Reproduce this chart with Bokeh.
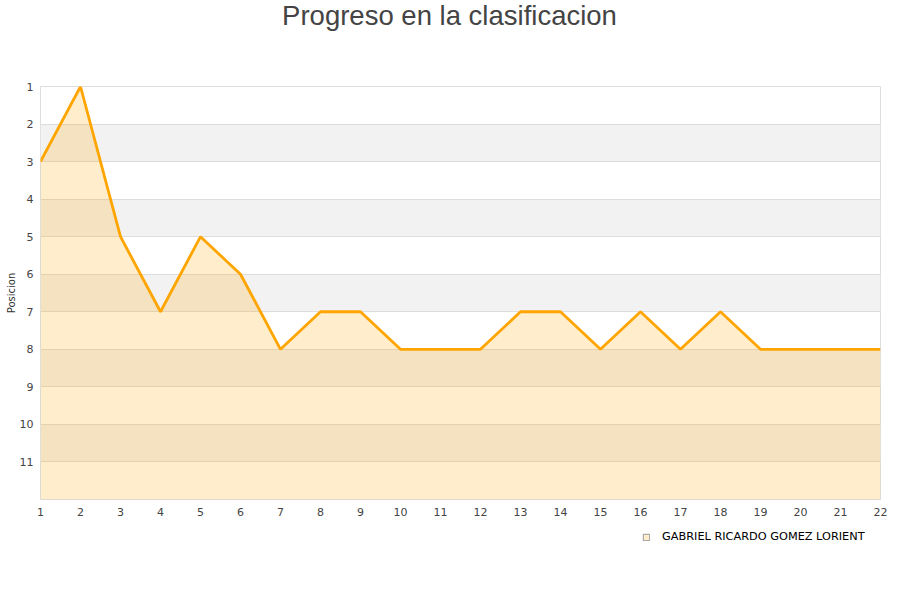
from bokeh.plotting import figure
from bokeh.models import ColumnDataSource, FixedTicker, Range1d, Legend, LegendItem, Label
from bokeh.layouts import column
from bokeh.embed import file_html
from bokeh.resources import INLINE

jornadas = list(range(1, 23))
posicion = [3, 1, 5, 7, 5, 6, 8, 7, 7, 8, 8, 8, 7, 7, 8, 7, 8, 7, 8, 8, 8, 8]
player = "GABRIEL RICARDO GOMEZ LORIENT"
title = "Progreso en la clasificacion"
y_ticks = list(range(1, 13))
bottom = 12

src = ColumnDataSource(dict(x=jornadas, y=posicion, base=[bottom] * len(jornadas)))

# title strip
p0 = figure(width=900, height=46, output_backend="svg", toolbar_location=None,
            x_range=Range1d(100, 101), y_range=Range1d(100, 101), min_border=0)
p0.axis.visible = False
p0.grid.visible = False
p0.outline_line_color = None
p0.add_layout(Label(x=409, y=31, x_units="screen", y_units="screen", text=title,
                    text_align="center", text_baseline="alphabetic",
                    text_font="Liberation Sans", text_font_size="27.5px",
                    text_color="#444444"))

p = figure(width=900, height=479, output_backend="svg", toolbar_location=None,
           x_range=Range1d(1, 22), y_range=Range1d(bottom, 1),
           min_border_left=40, min_border_right=20, min_border_top=40, min_border_bottom=26)

p.varea(x="x", y1="y", y2="base", source=src, fill_color="#FFA500", fill_alpha=0.2)
p.line(x="x", y="y", source=src, line_color="#FFA500", line_width=2.8)

p.xaxis.ticker = FixedTicker(ticks=jornadas)
p.yaxis.ticker = FixedTicker(ticks=y_ticks)
p.yaxis.major_label_overrides = {bottom: ""}
for ax in (p.xaxis, p.yaxis):
    ax.axis_line_color = None
    ax.major_tick_line_color = None
    ax.minor_tick_line_color = None
    ax.major_tick_out = 0
    ax.major_tick_in = 0
    ax.major_label_text_font = "DejaVu Sans"
    ax.major_label_text_font_size = "11px"
    ax.major_label_text_color = "#444444"
p.yaxis.major_label_standoff = 7
p.xaxis.major_label_standoff = 8
p.yaxis.axis_label = "Posicion"
p.yaxis.axis_label_text_font = "DejaVu Sans"
p.yaxis.axis_label_text_font_size = "10px"
p.yaxis.axis_label_text_font_style = "normal"
p.yaxis.axis_label_text_color = "#333333"
p.yaxis.axis_label_standoff = 0

p.xgrid.grid_line_color = None
p.ygrid.grid_line_color = "#dddddd"
p.ygrid.band_fill_color = "#f2f2f2"
p.ygrid.band_fill_alpha = 1.0
p.outline_line_color = "#dddddd"

# legend strip below the chart
p2 = figure(width=900, height=40, output_backend="svg", toolbar_location=None,
            x_range=Range1d(100, 101), y_range=Range1d(100, 101),
            min_border=0)
p2.axis.visible = False
p2.grid.visible = False
p2.outline_line_color = None
sw = p2.quad(left="x", right="x", top="y", bottom="base", source=src,
             fill_color="#FFA500", fill_alpha=0.2, line_color="#999999", line_width=1)
legend = Legend(items=[LegendItem(label=player, renderers=[sw])],
                location=(602, 22), orientation="horizontal",
                glyph_width=8, glyph_height=8, padding=4, label_standoff=12,
                label_text_font="DejaVu Sans", label_text_font_size="11.3px",
                label_text_color="#000000",
                border_line_color=None, background_fill_alpha=0)
p2.add_layout(legend, "center")

open("out.html", "w").write(file_html(column(p0, p, p2), INLINE))
